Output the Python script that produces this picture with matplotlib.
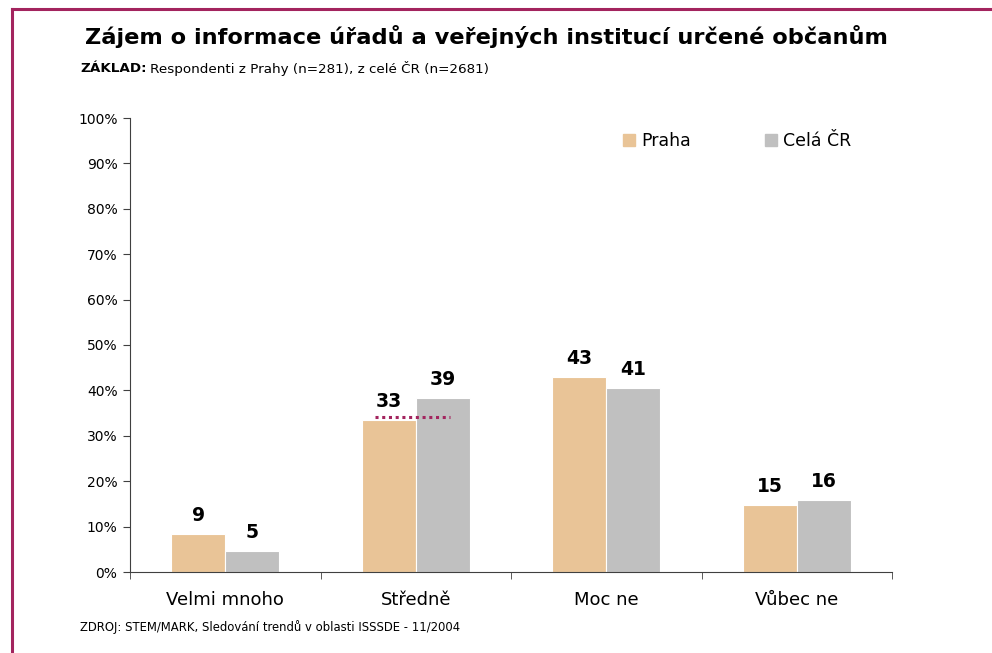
import matplotlib
matplotlib.use("Agg")
import matplotlib.pyplot as plt
from matplotlib.patches import Rectangle
from matplotlib.lines import Line2D
import numpy as np

categories = ["Velmi mnoho", "Středně", "Moc ne", "Vůbec ne"]
praha = [8.4, 33.4, 43.0, 14.8]
cela_cr = [4.6, 38.4, 40.5, 15.9]
praha_labels = ["9", "33", "43", "15"]
cr_labels = ["5", "39", "41", "16"]
yticks = [0, 10, 20, 30, 40, 50, 60, 70, 80, 90, 100]
ref_line_value = 34.1

c_praha = "#E9C497"
c_cr = "#C0C0C0"
c_border = "#A3245E"

plt.rcParams['font.family'] = ['DejaVu Sans']

fig = plt.figure(figsize=(9.92, 6.53), dpi=100)
fig.patch.set_facecolor("white")

# border lines (top and left)
fig.add_artist(Line2D([12/992, 1], [1-9/653, 1-9/653], color=c_border, lw=2.2, transform=fig.transFigure))
fig.add_artist(Line2D([12/992, 12/992], [0, 1-9/653], color=c_border, lw=2.2, transform=fig.transFigure))

ax = fig.add_axes([130/992, 1-572/653, (892-130)/992, (572-118)/653])
x = np.arange(len(categories))
w = 0.283
ax.bar(x - w/2, praha, width=w, color=c_praha, edgecolor="white", linewidth=0.8, label="Praha", zorder=2)
ax.bar(x + w/2, cela_cr, width=w, color=c_cr, edgecolor="white", linewidth=0.8, label="Celá ČR", zorder=2)

for xi, v, t in zip(x, praha, praha_labels):
    ax.text(xi - w/2, v + 2.0, t, ha="center", va="bottom", fontsize=13.5, fontweight="heavy")
for xi, v, t in zip(x, cela_cr, cr_labels):
    ax.text(xi + w/2, v + 2.0, t, ha="center", va="bottom", fontsize=13.5, fontweight="heavy")

# dotted reference line in "Středně"
ax.plot([1 - 0.215, 1 + 0.18], [ref_line_value, ref_line_value], color=c_border, lw=2.2,
        linestyle=(0, (1, 1.2)), zorder=3)

ax.set_xlim(-0.5, 3.5)
ax.set_ylim(0, 100)
ax.set_yticks(yticks)
ax.set_yticklabels([f"{v}%" for v in yticks], fontsize=10)
ax.set_xticks(x)
ax.set_xticklabels(categories, fontsize=13)
ax.set_xticks([-0.5, 0.5, 1.5, 2.5, 3.5], minor=True)
ax.tick_params(axis="x", which="major", length=0, pad=14)
ax.tick_params(axis="x", which="minor", length=5, color="#404040")
ax.tick_params(axis="y", length=5, color="#404040", pad=4)
for s in ["top", "right"]:
    ax.spines[s].set_visible(False)
ax.spines["left"].set_color("#404040")
ax.spines["bottom"].set_color("#404040")

handles = [Rectangle((0, 0), 1, 1, color=c_praha), Rectangle((0, 0), 1, 1, color=c_cr)]
fig.legend(handles, ["Praha", "Celá ČR"], loc="center left", bbox_to_anchor=(607/992, 1-141/653),
           ncol=2, frameon=False, fontsize=12.5, handlelength=0.7, handleheight=0.7,
           handletextpad=0.35, columnspacing=4.3)

fig.text(85/992, 1-37/653, "Zájem o informace úřadů a veřejných institucí určené občanům",
         fontsize=16.2, fontweight="bold", ha="left", va="center")
t1 = fig.text(80/992, 1-68/653, "ZÁKLAD:", fontsize=9.7, fontweight="bold", ha="left", va="center")
fig.canvas.draw()
bb = t1.get_window_extent()
fig.text(bb.x1/992 + 3/992, 1-68/653, "Respondenti z Prahy (n=281), z celé ČR (n=2681)",
         fontsize=9.7, ha="left", va="center")
fig.text(80/992, 1-627/653, "ZDROJ: STEM/MARK, Sledování trendů v oblasti ISSSDE - 11/2004",
         fontsize=8.4, ha="left", va="center")

fig.savefig("out.png", dpi=100, facecolor="white")
